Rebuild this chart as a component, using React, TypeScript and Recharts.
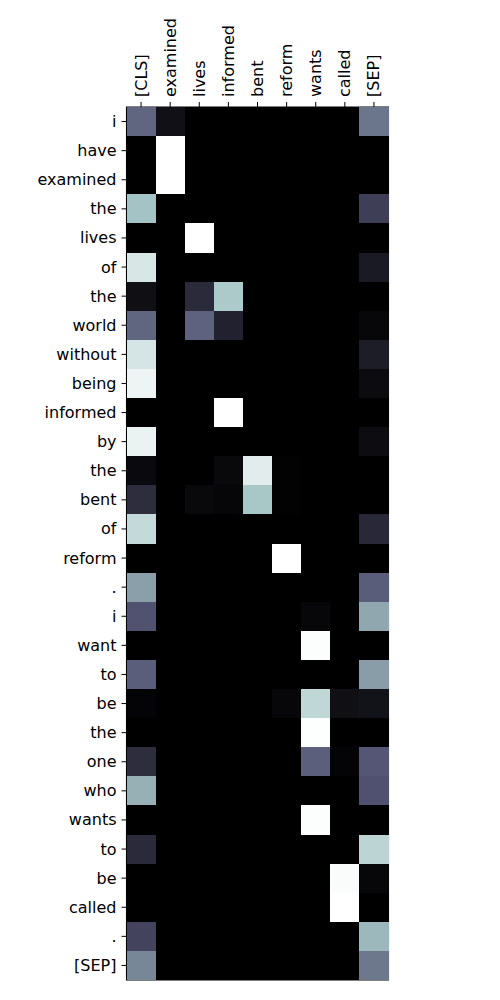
import {
  ScatterChart,
  Scatter,
  XAxis,
  YAxis,
  ReferenceArea,
} from "recharts";

const colLabels = ["[CLS]", "examined", "lives", "informed", "bent", "reform", "wants", "called", "[SEP]"];
const rowLabels = [
  "i", "have", "examined", "the", "lives", "of", "the", "world", "without", "being",
  "informed", "by", "the", "bent", "of", "reform", ".", "i", "want", "to",
  "be", "the", "one", "who", "wants", "to", "be", "called", ".", "[SEP]",
];

// attention weights, one row per token (columns follow colLabels)
const weights = [
  [0.43, 0.07, 0, 0, 0, 0, 0, 0, 0.48],
  [0, 1, 0, 0, 0, 0, 0, 0, 0],
  [0, 1, 0, 0, 0, 0, 0, 0, 0],
  [0.735, 0, 0, 0, 0, 0, 0, 0, 0.277],
  [0, 0, 1, 0, 0, 0, 0, 0, 0],
  [0.888, 0, 0, 0, 0, 0, 0, 0, 0.116],
  [0.065, 0, 0.187, 0.762, 0, 0, 0, 0, 0],
  [0.43, 0, 0.42, 0.15, 0, 0, 0, 0, 0.03],
  [0.88, 0, 0, 0, 0, 0, 0, 0, 0.13],
  [0.95, 0, 0, 0, 0, 0, 0, 0, 0.05],
  [0, 0, 0, 1, 0, 0, 0, 0, 0],
  [0.94, 0, 0, 0, 0, 0, 0, 0, 0.055],
  [0.045, 0, 0, 0.04, 0.917, 0.01, 0, 0, 0],
  [0.2, 0, 0.04, 0.025, 0.75, 0.01, 0, 0, 0],
  [0.83, 0, 0, 0, 0, 0, 0, 0, 0.18],
  [0, 0, 0, 0, 0, 1, 0, 0, 0],
  [0.618, 0, 0, 0, 0, 0, 0, 0, 0.404],
  [0.361, 0, 0, 0, 0, 0, 0.03, 0, 0.645],
  [0, 0, 0, 0, 0, 0, 0.99, 0, 0],
  [0.405, 0, 0, 0, 0, 0, 0, 0, 0.61],
  [0.02, 0, 0, 0, 0, 0.03, 0.82, 0.065, 0.08],
  [0, 0, 0, 0, 0, 0, 0.995, 0, 0],
  [0.2, 0, 0, 0, 0, 0, 0.41, 0.02, 0.38],
  [0.672, 0, 0, 0, 0, 0, 0, 0, 0.36],
  [0, 0, 0, 0, 0, 0, 0.99, 0, 0],
  [0.19, 0, 0, 0, 0, 0, 0, 0, 0.808],
  [0, 0, 0, 0, 0, 0, 0, 0.985, 0.03],
  [0, 0, 0, 0, 0, 0, 0, 1, 0],
  [0.3, 0, 0, 0, 0, 0, 0, 0, 0.7],
  [0.538, 0, 0, 0, 0, 0, 0, 0, 0.49],
];

const cells = weights.flatMap((row, r) => row.map((v, c) => ({ x: c, y: r, v })));

// matplotlib "bone" colormap
function bone(v: number) {
  const lerp = (pts: number[][]) => {
    for (let i = 1; i < pts.length; i++) {
      if (v <= pts[i][0]) {
        const [x0, y0] = pts[i - 1];
        const [x1, y1] = pts[i];
        return y0 + ((v - x0) / (x1 - x0)) * (y1 - y0);
      }
    }
    return 1;
  };
  const r = lerp([[0, 0], [0.746032, 0.652778], [1, 1]]);
  const g = lerp([[0, 0], [0.365079, 0.319444], [0.746032, 0.777778], [1, 1]]);
  const b = lerp([[0, 0], [0.365079, 0.444444], [1, 1]]);
  return `rgb(${Math.round(r * 255)},${Math.round(g * 255)},${Math.round(b * 255)})`;
}

const W = 484;
const H = 984;
const LEFT = 118.5;
const TOP = 99;
const PLOT_W = 262;
const PLOT_H = 873;
const CELL_W = PLOT_W / colLabels.length;
const CELL_H = PLOT_H / rowLabels.length;
const FONT = "DejaVu Sans";
const FONT_SIZE = 16;

const Cell = (props: any) => {
  const { cx, cy, payload } = props;
  return (
    <rect
      x={cx - CELL_W / 2}
      y={cy - CELL_H / 2}
      width={CELL_W}
      height={CELL_H}
      fill={bone(payload.v)}
      shapeRendering="crispEdges"
    />
  );
};

const TopTick = (props: any) => {
  const { x, y, payload } = props;
  return (
    <text
      transform={`translate(${x},${y - 5}) rotate(-90)`}
      textAnchor="start"
      dominantBaseline="central"
      fontFamily={FONT}
      fontSize={FONT_SIZE}
      fill="#000"
    >
      {colLabels[payload.value]}
    </text>
  );
};

const LeftTick = (props: any) => {
  const { x, y, payload } = props;
  return (
    <text
      x={x - 5}
      y={y}
      textAnchor="end"
      dominantBaseline="central"
      fontFamily={FONT}
      fontSize={FONT_SIZE}
      fill="#000"
    >
      {rowLabels[payload.value]}
    </text>
  );
};

export default function App() {
  return (
    <ScatterChart
      width={W}
      height={H}
      margin={{ top: 0, left: 0, right: W - LEFT - PLOT_W, bottom: H - TOP - PLOT_H - 10 }}
    >
      <XAxis
        xAxisId="top"
        orientation="top"
        type="number"
        dataKey="x"
        domain={[-0.5, colLabels.length - 0.5]}
        ticks={colLabels.map((_, i) => i)}
        interval={0}
        height={TOP}
        axisLine={false}
        tickLine={{ stroke: "#000", strokeWidth: 1 }}
        tickSize={5}
        tickMargin={0}
        tick={<TopTick />}
      />
      <XAxis
        xAxisId="bottom"
        orientation="bottom"
        type="number"
        dataKey="x"
        domain={[-0.5, colLabels.length - 0.5]}
        ticks={colLabels.map((_, i) => i)}
        interval={0}
        height={10}
        axisLine={false}
        tickLine={{ stroke: "#000", strokeWidth: 1 }}
        tickSize={5}
        tick={false}
      />
      <YAxis
        type="number"
        dataKey="y"
        domain={[-0.5, rowLabels.length - 0.5]}
        reversed
        ticks={rowLabels.map((_, i) => i)}
        interval={0}
        width={LEFT}
        axisLine={false}
        tickLine={{ stroke: "#000", strokeWidth: 1 }}
        tickSize={5}
        tickMargin={0}
        tick={<LeftTick />}
      />
      <Scatter
        xAxisId="top"
        data={cells}
        shape={<Cell />}
        isAnimationActive={false}
      />
      <Scatter
        xAxisId="bottom"
        data={cells}
        shape={() => null}
        isAnimationActive={false}
      />
      <ReferenceArea
        xAxisId="top"
        x1={-0.5}
        x2={colLabels.length - 0.5}
        y1={-0.5}
        y2={rowLabels.length - 0.5}
        fill="none"
        stroke="#000"
        strokeWidth={1.1}
        fillOpacity={0}
      />
    </ScatterChart>
  );
}
